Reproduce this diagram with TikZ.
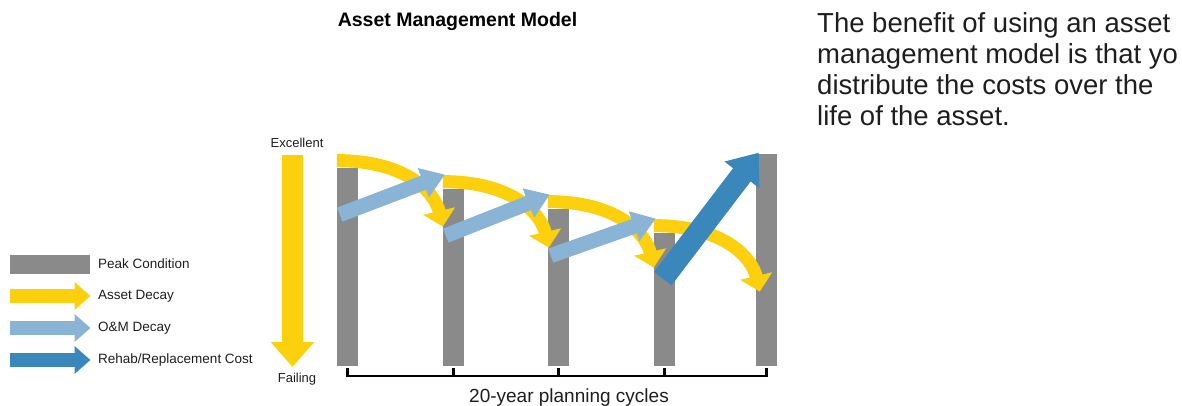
\documentclass[tikz,border=0pt]{standalone}
\usepackage{fontspec}
\setmainfont{Liberation Sans}
\usetikzlibrary{arrows.meta, positioning, calc}

\definecolor{peakgray}{RGB}{138,138,138}
\definecolor{decayyellow}{RGB}{252,208,12}
\definecolor{omblue}{RGB}{137,180,214}
\definecolor{rehabblue}{RGB}{58,135,188}
\definecolor{textgray}{RGB}{30,30,30}

\tikzstyle{bar} = [rectangle, fill=peakgray, minimum width=21pt, inner sep=0pt, anchor=south]
\tikzstyle{decay} = [draw=decayyellow, line width=13pt, -{Triangle[width=32pt,length=16pt]}]
\tikzstyle{omarrow} = [draw=omblue, line width=15pt, -{Triangle[width=30pt,length=23pt]}]
\tikzstyle{rehab} = [draw=rehabblue, line width=22pt, -{Triangle[width=42pt,length=28pt]}]
\tikzstyle{scalearrow} = [draw=decayyellow, line width=21pt, -{Triangle[width=42pt,length=25pt]}]
\tikzstyle{legarrow} = [line width=14pt, -{Triangle[width=27pt,length=16pt]}]
\tikzstyle{legtext} = [anchor=west, inner sep=0pt, text=textgray, font=\fontsize{13.5}{16}\selectfont]
\tikzstyle{axistext} = [inner sep=0pt, text=textgray, font=\fontsize{13}{15}\selectfont]
\tikzstyle{bracket} = [draw=black, line width=2.5pt]

\begin{document}
\begin{tikzpicture}[x=1pt, y=-1pt]
    \useasboundingbox (0,0) rectangle (1182,406);

    % Title
    \node (title) [font=\bfseries\fontsize{19.5}{22}\selectfont] at (457.5,22) {Asset Management Model};

    % Description
    \node (desc) [anchor=north west, align=left, inner sep=0pt, text=textgray, font=\fontsize{27.5}{30.7}\selectfont] at (817,12.8) {The benefit of using an asset\\management model is that yo\\distribute the costs over the\\life of the asset.};

    % Peak condition bars
    \node (b1) [bar, minimum height=198pt] at (347.5,366) {};
    \node (b2) [bar, minimum height=177pt] at (453.5,366) {};
    \node (b3) [bar, minimum height=157pt] at (558.5,366) {};
    \node (b4) [bar, minimum height=133pt] at (664.5,366) {};
    \node (b5) [bar, minimum height=212pt] at (766.5,366) {};

    % Asset decay
    \foreach \i in {1,...,4} {
        \coordinate (d\i) at ($(b\i.north west)+(0,-7)$);
        \draw [decay] (d\i) .. controls +(70,0) and +(-8,-34) .. ($(d\i)+(106,66)$);
    }

    % O&M decay
    \foreach \i/\j in {1/2, 2/3, 3/4}
        \draw [omarrow] ($(b\i.north west)+(3,47)$) -- ($(b\j.north west)+(2,-14)$);

    % Rehab/replacement
    \draw [rehab] ($(b4.north west)+(9,46)$) -- ($(b5.north west)+(3,-1)$);

    % Condition scale
    \node (excellent) [axistext, anchor=base] at (297,147.5) {Excellent};
    \node (failing) [axistext, anchor=base] at (297,382.5) {Failing};
    \draw [scalearrow] ($(excellent.base)+(-4.5,7.5)$) -- ($(failing.base)+(-4.5,-15.5)$);

    % Planning cycles
    \draw [bracket] ($(b1.south)+(0,2)$) -- ++(0,8) -| ($(b5.south)+(0,2)$);
    \foreach \b in {b2, b3, b4}
        \draw [bracket] ($(\b.south)+(0,2)$) -- ++(0,8);
    \node (cycles) [anchor=base, text=textgray, font=\fontsize{19}{22}\selectfont] at (569,402) {20-year planning cycles};

    % Legend
    \node (peak) [legtext] at (98,264) {Peak Condition};
    \node (assetdecay) [legtext, below=32pt of peak.west, anchor=west] {Asset Decay};
    \node (omdecay) [legtext, below=32pt of assetdecay.west, anchor=west] {O\&M Decay};
    \node (rehabcost) [legtext, below=32pt of omdecay.west, anchor=west] {Rehab/Replacement Cost};
    \node (peakkey) [left=8pt of peak, fill=peakgray, minimum width=80pt, minimum height=19pt, inner sep=0pt] {};
    \draw [legarrow, draw=decayyellow] ($(assetdecay.west)+(-88,0)$) -- ($(assetdecay.west)+(-7.5,0)$);
    \draw [legarrow, draw=omblue] ($(omdecay.west)+(-88,0)$) -- ($(omdecay.west)+(-7.5,0)$);
    \draw [legarrow, draw=rehabblue] ($(rehabcost.west)+(-88,0)$) -- ($(rehabcost.west)+(-7.5,0)$);
\end{tikzpicture}
\end{document}
